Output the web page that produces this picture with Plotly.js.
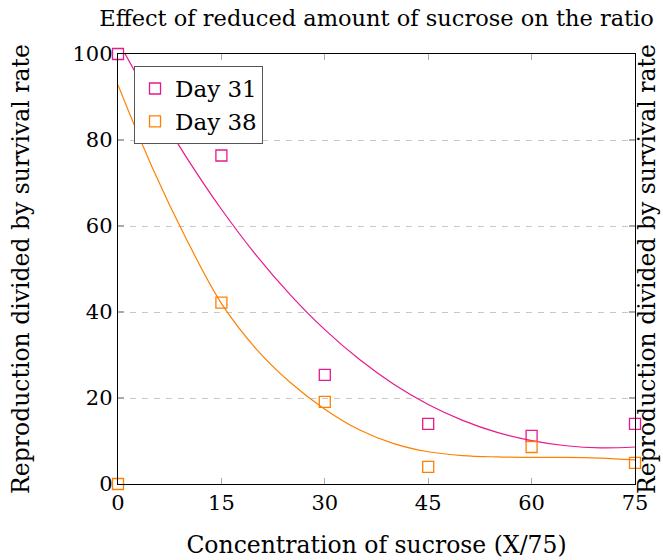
<!DOCTYPE html>
<html>
<head>
<meta charset="utf-8">
<script src="https://cdn.plot.ly/plotly-3.0.1.min.js"></script>
<style>html,body{margin:0;padding:0;background:#fff;}#chart{width:663px;height:560px;}</style>
</head>
<body>
<div id="chart"></div>
<script>
// Measured data points
const concentration = [0, 15, 30, 45, 60, 75];
const day31 = [100, 76.4, 25.4, 14.0, 11.2, 14.0];
const day38 = [0, 42.2, 19.1, 4.0, 8.6, 4.9];
// Trend curves
const curveX = [0, 5, 10, 15, 20, 25, 30, 35, 40, 45, 50, 55, 60, 65, 70, 75];
const curve31 = [103, 88.8, 75.8, 63.9, 53.3, 44.0, 35.9, 29.0, 23.2, 18.5, 14.8, 12.0, 10.1, 8.9, 8.4, 8.6];
const curve38 = [92.8, 73.5, 56.7, 42.0, 31.5, 23.6, 17.4, 12.6, 9.4, 7.5, 6.6, 6.3, 6.2, 6.2, 6.0, 5.6];
const xTicks = [0, 15, 30, 45, 60, 75];
const yTicks = [0, 20, 40, 60, 80, 100];
const seriesNames = ['Day 31', 'Day 38'];
const titleText = 'Effect of reduced amount of sucrose on the ratio';
const xTitle = 'Concentration of sucrose (X/75)';
const yTitle = 'Reproduction divided by survival rate';

const pink = '#e8198c';
const orange = '#ff8000';
const FONT = 'DejaVu Serif';

const traces = [
  {x: curveX, y: curve31, mode: 'lines', line: {color: pink, width: 1.2, shape: 'spline'}, showlegend: false, hoverinfo: 'skip'},
  {x: curveX, y: curve38, mode: 'lines', line: {color: orange, width: 1.2, shape: 'spline'}, showlegend: false, hoverinfo: 'skip'},
  {x: concentration, y: day31, name: seriesNames[0], mode: 'markers', cliponaxis: false,
   marker: {symbol: 'square-open', size: 11, color: pink, line: {width: 1.3}}},
  {x: concentration, y: day38, name: seriesNames[1], mode: 'markers', cliponaxis: false,
   marker: {symbol: 'square-open', size: 11, color: orange, line: {width: 1.3}}},
  {x: [null], y: [null], yaxis: 'y2', showlegend: false, hoverinfo: 'skip'}
];

const layout = {
  width: 663, height: 560,
  margin: {l: 118, r: 28, t: 54, b: 76},
  paper_bgcolor: '#fff', plot_bgcolor: '#fff',
  font: {family: FONT, size: 21, color: '#000'},
  showlegend: true,
  title: {text: titleText, font: {family: FONT, size: 22.5, color: '#000'}, x: 0.568, xanchor: 'center', y: 0.968, yanchor: 'middle'},
  xaxis: {
    range: [0, 75], tickvals: xTicks, ticktext: xTicks.map(String),
    showgrid: false, zeroline: false,
    showline: true, linecolor: '#000', linewidth: 1.2, mirror: 'ticks',
    ticks: 'inside', ticklen: 6, tickcolor: '#aaa', tickwidth: 1.2,
    tickfont: {family: FONT, size: 21},
    title: {text: xTitle, font: {family: FONT, size: 23.5}, standoff: 22}
  },
  yaxis: {
    range: [0, 100], tickvals: yTicks, ticktext: yTicks.map(String),
    showgrid: true, gridcolor: '#c8c8c8', griddash: '6px,6px', gridwidth: 1,
    zeroline: false,
    showline: true, linecolor: '#000', linewidth: 1.2, mirror: 'ticks',
    ticks: 'inside', ticklen: 6, tickcolor: '#aaa', tickwidth: 1.2,
    tickfont: {family: FONT, size: 21},
    title: {text: yTitle, font: {family: FONT, size: 23.5}, standoff: 36}
  },
  yaxis2: {
    overlaying: 'y', side: 'right', range: [0, 100],
    showgrid: false, zeroline: false, showticklabels: false, ticks: '',
    showline: false,
    title: {text: yTitle, font: {family: FONT, size: 23.5}, standoff: 3}
  },
  legend: {
    x: 0.031, y: 0.972, xanchor: 'left', yanchor: 'top',
    bgcolor: '#fff', bordercolor: '#555', borderwidth: 1,
    font: {family: FONT, size: 23}, itemwidth: 30, tracegroupgap: 0
  }
};

Plotly.newPlot('chart', traces, layout, {displayModeBar: false, staticPlot: true});
</script>
</body>
</html>
